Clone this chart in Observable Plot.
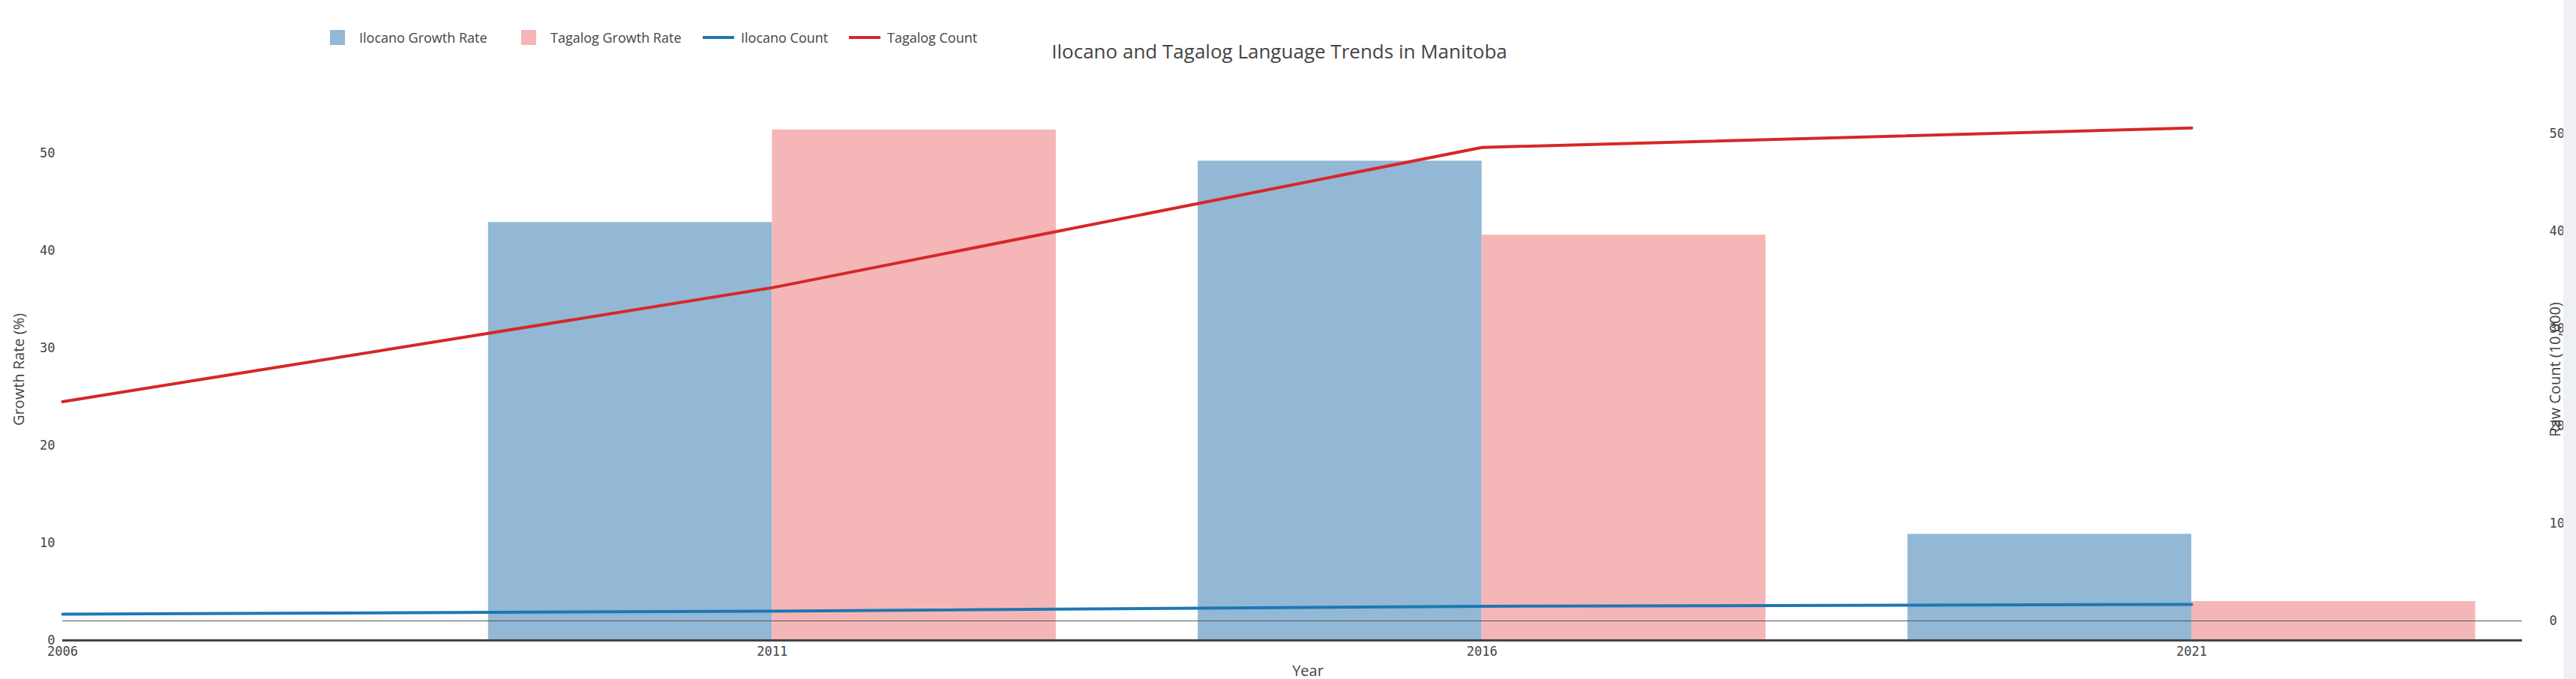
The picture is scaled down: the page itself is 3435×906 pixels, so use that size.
<!DOCTYPE html>
<html><head><meta charset="utf-8">
<script src="https://cdn.jsdelivr.net/npm/d3@7"></script>
<script src="https://cdn.jsdelivr.net/npm/@observablehq/plot@0.6"></script>
<style>
body{margin:0;background:#fff;font-family:"Open Sans","DejaVu Sans",sans-serif;overflow:hidden}
#wrap{position:relative;width:3435px;height:906px}
#wrap>div.abs{position:absolute;color:#444;white-space:nowrap}
.leg{font-size:18px;display:flex;align-items:center}
.sw{display:inline-block;width:20px;height:20px;margin-right:19px}
.ln{display:inline-block;width:42px;height:4px;margin-right:9px}
#strip{position:absolute;left:3418px;top:0;width:17px;height:906px;background:#eef0f3}
</style></head><body>
<div id="wrap"></div>
<script>
const years = [2006, 2011, 2016, 2021];
const ilocanoGrowth = [null, 42.9, 49.2, 10.9];
const tagalogGrowth = [null, 52.4, 41.6, 4.0];
const ilocanoCount = [0.7, 1.0, 1.5, 1.7];   // in 10,000
const tagalogCount = [22.5, 34.2, 48.6, 50.6]; // in 10,000
const rightTicks = [0, 10, 20, 30, 40, 50];
const leftTicks = [0, 10, 20, 30, 40, 50];
const offset = 2.0; // right-axis zero sits at this left-axis value
const colIloBar = "#92b8d5", colTagBar = "#f5b6b7", colIlo = "#1f77b4", colTag = "#d62728";

const bars = [];
years.forEach((y, i) => {
  if (ilocanoGrowth[i] != null) bars.push({x1: y - 2, x2: y, v: ilocanoGrowth[i], c: colIloBar});
  if (tagalogGrowth[i] != null) bars.push({x1: y, x2: y + 2, v: tagalogGrowth[i], c: colTagBar});
});
const lines = years.map((y, i) => ({year: y, ilo: ilocanoCount[i] + offset, tag: tagalogCount[i] + offset}));

const chart = Plot.plot({
  width: 3418, height: 906,
  marginLeft: 83, marginRight: 55, marginTop: 113, marginBottom: 52,
  style: {fontFamily: "'DejaVu Sans Mono', monospace", fontSize: "17px", color: "#444", background: "transparent", overflow: "visible"},
  x: {domain: [2006, 2023.33], ticks: years, tickFormat: d => String(d), tickSize: 0, label: null, tickPadding: 8},
  y: {domain: [0, 57]},
  marks: [
    Plot.rectY(bars, {x1: "x1", x2: "x2", y1: 0, y2: "v", fill: "c"}),
    Plot.ruleY([offset], {stroke: "#555", strokeWidth: 1.2}),
    Plot.line(lines, {x: "year", y: "ilo", stroke: colIlo, strokeWidth: 4}),
    Plot.line(lines, {x: "year", y: "tag", stroke: colTag, strokeWidth: 4}),
    Plot.ruleY([0], {stroke: "#444", strokeWidth: 3}),
    Plot.axisY(leftTicks, {anchor: "left", tickSize: 0, tickPadding: 10, label: null, fontSize: 17}),
    Plot.axisY(rightTicks.map(t => t + offset), {anchor: "right", tickSize: 0, tickPadding: 36, tickFormat: d => String(Math.round(d - offset)), label: null, fontSize: 17})
  ]
});
const wrap = document.getElementById("wrap");
wrap.appendChild(chart);
chart.style.position = "absolute"; chart.style.left = "0"; chart.style.top = "0";

function add(html, css, cls) { const d = document.createElement("div"); d.className = "abs " + (cls || ""); d.innerHTML = html; Object.assign(d.style, css); wrap.appendChild(d); return d; }
add("Ilocano and Tagalog Language Trends in Manitoba", {left: "1706px", top: "68px", transform: "translate(-50%,-50%)", fontSize: "26px"});
add("Growth Rate (%)", {left: "24px", top: "493px", transform: "translate(-50%,-50%) rotate(-90deg)", fontSize: "20px"});
add("Raw Count (10,000)", {left: "3406px", top: "493px", transform: "translate(-50%,-50%) rotate(-90deg)", fontSize: "20px"});
add("Year", {left: "1744px", top: "894px", transform: "translate(-50%,-50%)", fontSize: "20px"});
add('<span class="sw" style="background:' + colIloBar + '"></span>Ilocano Growth Rate', {left: "440px", top: "38px"}, "leg");
add('<span class="sw" style="background:' + colTagBar + '"></span>Tagalog Growth Rate', {left: "695px", top: "38px"}, "leg");
add('<span class="ln" style="background:' + colIlo + '"></span>Ilocano Count', {left: "937px", top: "38px"}, "leg");
add('<span class="ln" style="background:' + colTag + '"></span>Tagalog Count', {left: "1132px", top: "38px"}, "leg");
const s = document.createElement("div"); s.id = "strip"; wrap.appendChild(s);
</script></body></html>
